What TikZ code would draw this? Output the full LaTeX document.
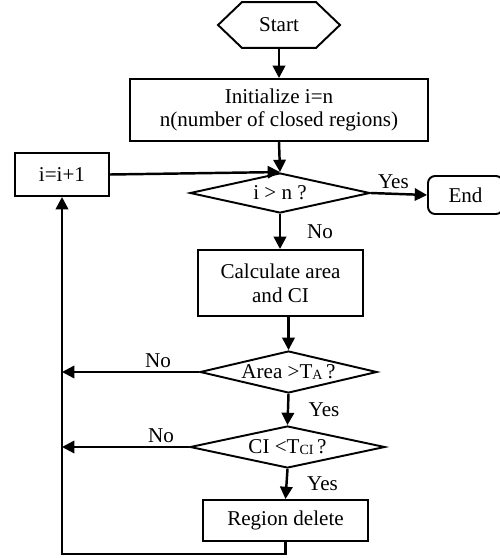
\documentclass[tikz,border=0pt]{standalone}
\usepackage{fontspec}
\setmainfont{Liberation Serif}
\usetikzlibrary{shapes.geometric,arrows.meta}

\begin{document}
\begin{tikzpicture}[x=0.02cm,y=-0.02cm,
    every node/.style={font=\fontsize{12}{13.6}\selectfont},
    >={Triangle[length=7pt,width=7pt]}]

        \useasboundingbox (0,0) rectangle (500,558);

        \begin{scope}[every node/.style={draw,line width=1.1pt,inner sep=0pt,
            font=\fontsize{12}{13.6}\selectfont,align=center}]
          \node[draw=none,minimum width=2.4cm,minimum height=0.88cm] (1) at (279,25) {Start};
          \node[minimum width=5.96cm,minimum height=1.24cm] (2) at (279,110)
                {Initialize i=n\\n(number of closed regions)};
          \node[minimum width=1.88cm,minimum height=0.86cm] (3) at (62,174.5) {i=i+1};
          \node[diamond,aspect=4.5,minimum width=3.6cm,minimum height=0.8cm] (4) at (280,193)
                {\raisebox{-4pt}{i > n ?}};
          \node[rounded corners=4pt,minimum width=1.5cm,minimum height=0.76cm] (5) at (465.5,195) {End};
          \node[minimum width=3.3cm,minimum height=1.32cm] (6) at (280.5,283) {Calculate area\\and CI};
          \node[diamond,aspect=4.2,minimum width=3.54cm,minimum height=0.84cm] (7) at (288.5,372)
                {Area >T\raisebox{-0.5pt}{\footnotesize A}\,?};
          \node[diamond,aspect=4.64,minimum width=3.9cm,minimum height=0.84cm] (8) at (287.5,447)
                {CI <T\raisebox{-0.5pt}{\footnotesize CI}\,?};
          \node[minimum width=3.3cm,minimum height=0.82cm] (9) at (285.5,520.5) {Region delete};
        \end{scope}

        % hexagon round the start node
        \draw[line width=1.1pt] (1.west) -- ([xshift=0.48cm]1.north west)
          -- ([xshift=-0.48cm]1.north east) -- (1.east)
          -- ([xshift=-0.48cm]1.south east) -- ([xshift=0.48cm]1.south west) -- cycle;

        \begin{scope}[every node/.style={font=\fontsize{12}{13.6}\selectfont,inner sep=2pt}]

          \begin{scope}[every edge/.style={draw,->,line width=1.4pt}]
            \path (1.south) edge (2.north);
            \path (2.south) edge (4.north);
            \path (3.east)  edge (4.north);
            \path (4.east)  edge node[above,pos=0.4] {Yes} (5.west);
            \path (4.south) edge node[right=0.45cm] {No} (4.south |- 6.north);
            \path (7.north |- 6.south) edge (7.north);
            \path (7.west)  edge node[above,pos=0.3] {No} (7.west -| 3.south);
            \path (7.south) edge node[right=0.32cm] {Yes} (8.north);
            \path (8.west)  edge node[above,pos=0.22] {No} (8.west -| 3.south);
            \path (8.south) edge node[right=0.32cm] {Yes} (9.north);
          \end{scope}

          \draw[->,line width=1.4pt] (9.south) -- ++(0,12) -| (3.south);
        \end{scope}

      \end{tikzpicture}
\end{document}
